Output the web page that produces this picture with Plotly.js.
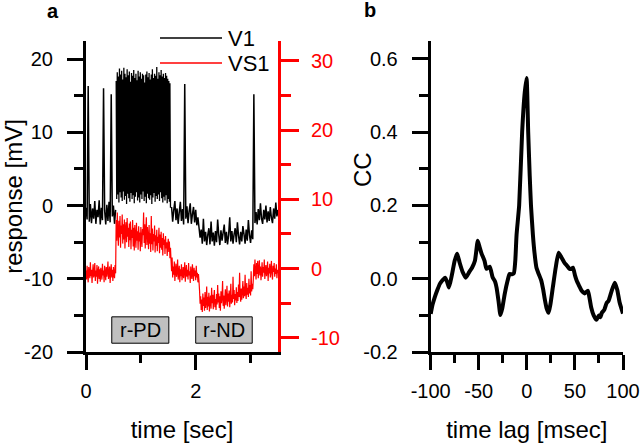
<!DOCTYPE html>
<html><head><meta charset="utf-8">
<script src="https://cdn.plot.ly/plotly-3.0.1.min.js"></script>
<style>html,body{margin:0;padding:0;background:#fff;} #chart{width:640px;height:443px;}</style>
</head><body><div id="chart"></div>
<script>
// ---------- data ----------
// V1 (mV), recorded in three pieces: before, during and after the spike burst
const v1PreStart = 0, v1PreStep = 0.02;
const v1Pre = [-0.3,-1.9,16.3,-2.2,0.2,-2.4,-0.4,-1.8,0.6,-2.5,-0.6,-1.6,0.7,-2.6,-0.3,-2.0,16.0,-0.7,-2.6,0.1,-2.1,0.5,-2.3,15.2,-1.5,0.0,-2.5,-0.6];
const v1BurstStart = 0.55, v1BurstStep = 0.01;
const v1Burst = [
 17.0,0.9,18.2,1.5,17.6,0.4,18.7,1.8,17.9,1.1,18.4,0.6,17.2,1.9,18.8,0.8,18.0,1.3,17.5,0.2,
 18.6,1.6,17.8,1.0,18.3,0.5,16.9,1.7,18.1,0.9,17.7,1.4,18.5,0.3,17.4,1.2,18.0,1.8,17.1,0.7,
 18.4,1.1,17.6,0.4,18.2,1.5,17.3,0.9,18.0,1.9,17.8,0.6,16.8,1.2,17.9,0.3,18.3,1.6,17.5,1.0,
 18.1,0.8,17.2,1.4,17.9,0.2,18.6,1.1,17.4,1.7,18.0,0.5,17.7,1.3,18.9,0.9,17.3,1.5,18.2,0.6,
 17.8,1.8,18.5,1.0,17.6,0.4,18.0,1.2,17.4,0.7,18.1,1.4,17.7,0.3,17.3,0.9,17.0,0.5,16.7,-0.3
];
const v1PostStart = 1.56, v1PostStep = 0.02;
const v1Post = [
 -0.2,-2.2,-0.6,0.6,-2.0,-0.4,-2.5,-0.9,0.5,-2.1,-0.5,-2.6,16.6,-1.8,-0.1,-2.4,-0.8,0.3,-2.5,-1.2,-0.2,-2.3,-0.6,-2.7,-1.6,
 -3.0,-4.4,-3.3,-5.2,-1.8,-4.9,-3.6,-5.4,-4.0,-3.1,-5.3,-2.2,-4.9,-3.7,-5.5,-3.5,-5.0,-1.9,-4.0,-5.4,-3.4,-4.8,-3.7,-2.6,-5.1,-3.6,-5.3,-4.0,-1.6,-4.9,-3.5,-5.2,-3.9,-3.1,-5.0,-2.3,-4.1,-5.3,-3.6,-4.9,-2.8,-3.9,-5.2,-3.3,-4.8,-2.0,-4.0,-5.1,-3.4,-4.6,
 15.2,-2.4,-0.9,-2.6,-0.5,-2.0,0.3,-1.8,-2.5,-0.6,-1.9,0.0,-2.3,-0.8,-2.1,-0.2,-1.7,-2.4,-0.4,-1.8,0.4,-1.5,-0.6
];
// VS1 (mV, right axis)
const vs1Start = 0, vs1Step = 0.01;
const vs1Values = [
 -0.3,-1.6,0.4,-0.9,-2.0,0.2,-0.6,-1.4,0.9,-1.1,
 -0.2,-2.1,-0.5,0.6,-1.3,-0.7,0.8,-1.8,-0.3,-1.2,
 0.5,-2.2,-0.4,0.3,-1.5,-0.1,-1.9,0.1,-0.8,-1.6,
 0.7,-1.0,-0.3,-2.0,0.4,-0.6,-1.7,0.2,-1.2,-0.4,
 1.0,-1.5,-0.8,0.3,-2.1,-0.5,0.6,-1.3,-0.2,-1.8,
 0.2,-0.9,-1.4,0.5,-0.7,
 7.0,4.0,8.1,5.2,3.3,6.9,4.5,7.6,3.0,6.2,
 5.0,7.8,3.6,6.4,4.2,7.1,2.9,5.8,6.7,3.8,
 7.3,4.6,5.9,3.1,6.5,
 4.1,6.8,2.8,5.6,4.4,7.0,3.2,5.9,2.6,6.3,
 4.7,3.0,6.6,4.0,5.4,2.7,6.1,3.9,5.2,2.5,
 6.0,4.3,3.1,5.7,4.8,
 8.1,3.7,6.4,2.9,5.5,7.4,3.4,6.0,4.5,2.8,
 6.3,3.6,5.1,2.4,7.6,
 3.5,5.8,2.6,5.0,3.9,6.2,2.3,4.8,3.3,5.6,
 2.5,4.6,3.7,5.9,2.2,4.9,3.0,5.3,2.7,4.4,
 1.9,5.1,3.4,4.2,2.1,4.7,2.9,3.8,1.8,3.5,
 4.3,2.4,3.9,1.5,3.0,
 1.2,-0.4,1.6,-1.3,0.3,-0.9,1.0,-1.8,-0.2,0.7,
 -1.2,-0.5,1.3,-1.6,-0.7,0.4,-2.0,-0.1,-1.1,0.6,
 -1.7,-0.8,0.2,-1.4,-0.3,0.9,-1.9,-0.6,0.5,-1.2,
 -0.2,-1.6,0.8,-1.0,-0.4,-2.1,0.3,-0.9,-1.5,0.6,
 -0.7,-1.8,0.1,-1.1,-0.3,-1.7,0.4,-1.3,-0.6,-2.0,
 -0.8,-1.9,
 -3.2,-5.1,-4.0,-6.0,-4.5,-6.3,-3.6,-5.4,-4.2,-6.1,
 -3.4,-5.7,-4.8,-2.6,-6.0,-4.1,-5.5,-3.5,-6.2,-4.6,
 -3.9,-5.8,-2.8,-5.0,-3.8,-5.9,-4.3,-3.1,-5.6,-4.4,
 -6.0,-3.7,-5.2,-2.4,-4.9,-3.6,-5.7,-4.0,-6.1,-3.3,
 -5.0,-4.2,-1.8,-5.4,-3.9,-5.8,-4.5,-3.0,-5.3,-4.1,
 -2.5,-5.5,-3.6,-4.8,-3.2,-5.6,-4.3,-2.2,-5.1,-3.8,
 -4.9,-1.2,-4.4,-3.1,-5.3,-3.7,-4.6,-2.7,-5.0,-3.4,
 -4.7,-2.3,-4.1,-0.6,-3.9,-4.8,-2.9,-4.5,-3.2,-1.8,
 -4.3,-2.6,-4.0,-0.9,-3.5,-4.4,-2.1,-3.8,-2.8,-4.1,
 -1.5,-3.6,-2.4,-3.9,-0.4,-3.3,-2.2,-3.0,-1.6,
 0.6,-1.1,1.3,-0.4,-1.6,0.8,-0.8,1.1,-1.4,-0.1,
 1.2,-1.0,0.3,-1.7,-0.5,0.9,-1.2,0.2,-0.6,1.3,
 -1.5,-0.2,0.5,-1.1,-0.4,1.0,-1.8,0.1,-0.7,0.7,
 -1.3,-0.3,1.1,-0.9,-1.6,0.4,-0.5,0.8,-1.2,0.0,
 -0.8,0.6,-1.4,-0.2,-0.7
];
const seriesNames = ['V1', 'VS1'];
const stimLabels = ['r-PD', 'r-ND'];
const stimStart = [0.47, 2.0];
const stimEnd = [1.51, 3.03];

const lagMs = [-100,-98,-96,-93,-90.5,-88,-85,-83,-81,-78,-75,-72.5,-70,-67,-63.5,-60,-57,-54,-51,-49,-47,-44,-42,-38.6,-35.6,-33,-31.5,-29.5,-27.5,-25.5,-23,-20,-18,-15.5,-13.5,-12,-10.7,-8,-4.9,-2.5,-0.3,1.4,3,4.3,6.3,8,10,12,15,17,18.4,20.5,22.6,24.5,27,30,33,36,39,42,44.5,46.5,48,50,51.8,54.5,57,60,63.5,65,67,69.5,72.5,75,76.5,78,80.5,83,85,88,91.4,94,96.5,100];
const ccValues = [-0.096,-0.07,-0.052,-0.03,-0.014,-0.005,0.003,-0.008,-0.024,0.01,0.05,0.068,0.045,0.02,0.003,0.018,0.03,0.049,0.104,0.085,0.068,0.049,0.027,0.033,0.004,-0.008,-0.024,-0.06,-0.099,-0.08,-0.041,-0.005,0.013,0.012,0.015,0.05,0.12,0.2,0.4,0.5,0.548,0.4,0.28,0.2,0.12,0.07,0.03,0.015,-0.005,-0.03,-0.052,-0.08,-0.093,-0.07,-0.024,0.03,0.071,0.058,0.044,0.035,0.027,0.027,0.03,0.01,-0.005,-0.02,-0.033,-0.04,-0.033,-0.05,-0.079,-0.1,-0.112,-0.1,-0.105,-0.093,-0.085,-0.066,-0.06,-0.035,-0.011,-0.03,-0.065,-0.095];

const leftTickVals = [-20,-10,0,10,20];
const leftTickText = ['-20','-10','0','10','20'];
const rightTickVals = [-10,0,10,20,30];
const rightTickText = ['-10','0','10','20','30'];
const timeTickVals = [0,2];
const timeTickText = ['0','2'];
const lagTickVals = [-100,-50,0,50,100];
const lagTickText = ['-100','-50','0','50','100'];
const ccTickVals = [-0.2,0,0.2,0.4,0.6];
const ccTickText = ['-0.2','0.0','0.2','0.4','0.6'];

// ---------- layout helpers ----------
const W = 640, H = 443;
const px = x => x / W;
const py = y => 1 - y / H;
const FONT = 'Liberation Sans, Arial, Helvetica, sans-serif';
const RED = '#ff0000';

const yDom = [py(352), py(41)];

function axisBase(color) {
  return {
    showline: true, linewidth: 3, linecolor: color, mirror: false,
    ticks: 'outside', tickwidth: 3, tickcolor: color, ticklen: 16,
    showgrid: false, zeroline: false, fixedrange: true,
    tickfont: {family: FONT, size: 20, color: color},
    tickmode: 'array'
  };
}

const blackLine = {color: '#000000', width: 1.5, simplify: false};
const traces = [
  {x0: v1PreStart, dx: v1PreStep, y: v1Pre, type: 'scatter', mode: 'lines',
   name: seriesNames[0], legendgroup: 'v1', line: blackLine, xaxis: 'x', yaxis: 'y', showlegend: false},
  {x0: v1BurstStart, dx: v1BurstStep, y: v1Burst, type: 'scatter', mode: 'lines',
   name: seriesNames[0], legendgroup: 'v1', line: {color: '#000000', width: 1.3, simplify: false}, xaxis: 'x', yaxis: 'y', showlegend: false},
  {x0: v1PostStart, dx: v1PostStep, y: v1Post, type: 'scatter', mode: 'lines',
   name: seriesNames[0], legendgroup: 'v1', line: blackLine, xaxis: 'x', yaxis: 'y', showlegend: false},
  {x0: vs1Start, dx: vs1Step, y: vs1Values, type: 'scatter', mode: 'lines',
   name: seriesNames[1], line: {color: RED, width: 1.2, simplify: false}, xaxis: 'x', yaxis: 'y2', showlegend: false},
  {x: lagMs, y: ccValues, type: 'scatter', mode: 'lines', name: 'CC',
   line: {color: '#000000', width: 4, shape: 'spline', smoothing: 0.5, simplify: false}, xaxis: 'x2', yaxis: 'y3', showlegend: false}
];

const xa = Object.assign(axisBase('#000'), {
  domain: [px(86), px(278)], range: [0, 3.5], anchor: 'y',
  tickvals: timeTickVals, ticktext: timeTickText, ticklen: 15, ticklabelstandoff: 4,
  minor: {tickmode: 'array', tickvals: [1, 3], ticklen: 8, tickwidth: 3, tickcolor: '#000', ticks: 'outside'},
  title: {text: 'time [sec]', font: {family: FONT, size: 24, color: '#000'}, standoff: 23}
});
const ya = Object.assign(axisBase('#000'), {
  domain: yDom, range: [-20, 22.46], anchor: 'x',
  tickvals: leftTickVals, ticktext: leftTickText, ticklabelstandoff: 10,
  minor: {tickmode: 'array', tickvals: [-15,-5,5,15], ticklen: 9, tickwidth: 3, tickcolor: '#000', ticks: 'outside'},
  title: {text: 'response [mV]', font: {family: FONT, size: 24, color: '#000'}, standoff: 12}
});
const ya2 = Object.assign(axisBase(RED), {
  overlaying: 'y', side: 'right', anchor: 'x', range: [-12.07, 32.89],
  tickvals: rightTickVals, ticktext: rightTickText, ticklen: 18, ticklabelstandoff: 8,
  minor: {tickmode: 'array', tickvals: [-5,5,15,25], ticklen: 10, tickwidth: 3, tickcolor: RED, ticks: 'outside'}
});
const xa2 = Object.assign(axisBase('#000'), {
  domain: [px(430.7), px(623)], range: [-100, 100], anchor: 'y3',
  tickvals: lagTickVals, ticktext: lagTickText, ticklen: 15, ticklabelstandoff: 4,
  minor: {tickmode: 'array', tickvals: [-75,-25,25,75], ticklen: 8, tickwidth: 3, tickcolor: '#000', ticks: 'outside'},
  title: {text: 'time lag [msec]', font: {family: FONT, size: 24, color: '#000'}, standoff: 23}
});
const ya3 = Object.assign(axisBase('#000'), {
  domain: yDom, range: [-0.2, 0.649], anchor: 'x2',
  tickvals: ccTickVals, ticktext: ccTickText, ticklabelstandoff: 10,
  minor: {tickmode: 'array', tickvals: [-0.1,0.1,0.3,0.5], ticklen: 9, tickwidth: 3, tickcolor: '#000', ticks: 'outside'}
});

const shapes = [
  {type: 'line', xref: 'paper', yref: 'paper', x0: px(160), x1: px(222), y0: py(38), y1: py(38), line: {color: '#000', width: 1.5}},
  {type: 'line', xref: 'paper', yref: 'paper', x0: px(160), x1: px(222), y0: py(63), y1: py(63), line: {color: RED, width: 1.5}}
];
const annotations = [
  {xref: 'paper', yref: 'paper', x: px(226), y: py(38), xanchor: 'left', yanchor: 'middle', showarrow: false,
   text: seriesNames[0], font: {family: FONT, size: 22, color: '#000'}},
  {xref: 'paper', yref: 'paper', x: px(226), y: py(64), xanchor: 'left', yanchor: 'middle', showarrow: false,
   text: seriesNames[1], font: {family: FONT, size: 22, color: '#000'}},
  {xref: 'paper', yref: 'paper', x: px(53), y: py(11), xanchor: 'center', yanchor: 'middle', showarrow: false,
   text: '<b>a</b>', font: {family: FONT, size: 20, color: '#000'}},
  {xref: 'paper', yref: 'paper', x: px(370), y: py(10), xanchor: 'center', yanchor: 'middle', showarrow: false,
   text: '<b>b</b>', font: {family: FONT, size: 20, color: '#000'}},
  {xref: 'paper', yref: 'paper', x: px(362), y: py(170), xanchor: 'center', yanchor: 'middle', showarrow: false,
   textangle: -90, text: 'CC', font: {family: FONT, size: 24, color: '#000'}}
];
stimLabels.forEach((lab, i) => {
  shapes.push({type: 'rect', xref: 'x', yref: 'y', x0: stimStart[i], x1: stimEnd[i], y0: -18.8, y1: -15.2,
    fillcolor: '#c0c0c0', line: {color: '#000', width: 1}, layer: 'above'});
  annotations.push({xref: 'x', yref: 'y', x: (stimStart[i] + stimEnd[i]) / 2, y: -17.0, showarrow: false,
    xanchor: 'center', yanchor: 'middle', text: lab, font: {family: FONT, size: 20, color: '#000'}});
});

const layout = {
  width: W, height: H, margin: {l: 0, r: 0, t: 0, b: 0, autoexpand: false},
  paper_bgcolor: '#fff', plot_bgcolor: 'rgba(0,0,0,0)', showlegend: false,
  font: {family: FONT, color: '#000'},
  xaxis: xa, yaxis: ya, yaxis2: ya2, xaxis2: xa2, yaxis3: ya3,
  shapes: shapes, annotations: annotations
};

Plotly.newPlot('chart', traces, layout, {displayModeBar: false, staticPlot: true});
</script></body></html>
